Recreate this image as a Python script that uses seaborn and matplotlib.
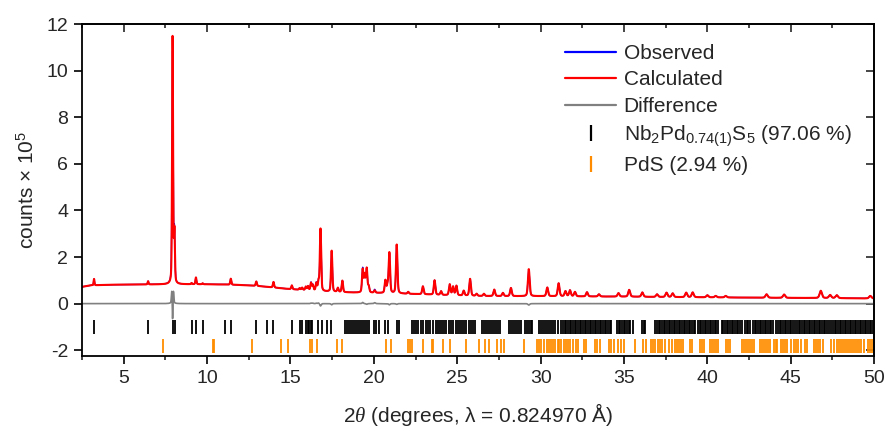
import numpy as np
import pandas as pd
import matplotlib
matplotlib.use("Agg")
import matplotlib.pyplot as plt
import seaborn as sns
from matplotlib.lines import Line2D
from matplotlib.ticker import MultipleLocator

# ---------------- data ----------------
# reflection positions (deg 2theta) and apex values (counts x 1e5) of the calculated pattern
peak_pos = [3.22, 6.46, 7.93, 8.04, 9.07, 9.33, 9.73, 11.42, 12.95, 13.98,
            15.08, 15.55, 15.70, 15.92, 16.05, 16.23, 16.34, 16.55, 16.68, 16.80,
            17.47, 17.84, 18.11, 19.33, 19.45, 19.57, 19.69, 20.05, 20.69, 20.82,
            20.93, 21.37, 22.06, 22.94, 23.64, 24.03, 24.55, 24.75, 24.95, 25.39,
            25.77, 26.16, 26.60, 27.22, 27.74, 28.22, 29.29, 30.40, 31.08, 31.49,
            31.76, 32.06, 32.78, 33.50, 34.67, 35.31, 36.10, 36.98, 37.55, 37.92,
            38.73, 39.12, 40.00, 40.50, 41.10, 43.55, 44.60, 46.80, 47.36, 47.76,
            49.77]
calc_apex = [1.06, 0.96, 11.45, 3.00, 0.88, 1.12, 0.87, 1.07, 0.95, 0.93,
             0.78, 0.66, 0.68, 0.72, 0.74, 0.88, 0.78, 0.86, 0.92, 3.20,
             2.27, 0.67, 0.98, 1.45, 1.20, 1.48, 0.72, 0.56, 0.98, 0.75,
             2.17, 2.53, 0.50, 0.74, 1.00, 0.53, 0.82, 0.72, 0.76, 0.55,
             1.06, 0.42, 0.42, 0.60, 0.46, 0.67, 1.48, 0.69, 0.87, 0.53,
             0.57, 0.50, 0.49, 0.40, 0.45, 0.59, 0.48, 0.40, 0.47, 0.44,
             0.47, 0.48, 0.36, 0.33, 0.33, 0.40, 0.39, 0.55, 0.37, 0.36,
             0.33]
obs_apex = [1.06, 0.96, 10.80, 3.00, 0.88, 1.12, 0.87, 1.07, 0.95, 0.93,
            0.78, 0.66, 0.68, 0.72, 0.74, 0.90, 0.80, 0.88, 0.95, 3.10,
            2.22, 0.67, 0.98, 1.50, 1.20, 1.45, 0.72, 0.60, 0.98, 0.75,
            2.12, 2.50, 0.50, 0.74, 1.00, 0.53, 0.82, 0.72, 0.76, 0.55,
            1.06, 0.42, 0.42, 0.60, 0.46, 0.67, 1.42, 0.69, 0.87, 0.53,
            0.57, 0.50, 0.49, 0.40, 0.45, 0.59, 0.48, 0.40, 0.47, 0.44,
            0.47, 0.48, 0.36, 0.33, 0.33, 0.40, 0.39, 0.55, 0.37, 0.36,
            0.33]
obs_width_scale = [1.0, 1.0, 1.12] + [1.0] * 68

# background anchor points
bg_pos = [2.5, 3.0, 4.0, 6.0, 8.0, 10.0, 11.0, 12.0, 13.0, 14.0, 15.0, 16.0,
          17.0, 18.0, 19.0, 20.0, 21.0, 22.0, 23.0, 24.0, 25.0, 26.0, 28.0,
          30.0, 32.0, 35.0, 38.0, 40.0, 44.0, 47.0, 50.0]
bg_val = [0.72, 0.78, 0.81, 0.82, 0.83, 0.83, 0.82, 0.80, 0.76, 0.69, 0.62, 0.57,
          0.52, 0.49, 0.47, 0.46, 0.44, 0.42, 0.40, 0.37, 0.35, 0.33, 0.32,
          0.32, 0.31, 0.30, 0.28, 0.27, 0.25, 0.24, 0.22]

# Bragg reflection markers
nb_ticks = [3.22, 6.46, 7.94, 8.06, 9.07, 9.31, 9.73, 11.10, 11.42, 12.92, 13.58, 13.96,
            15.07, 15.55, 15.67, 15.91, 16.04, 16.11, 16.23, 16.31, 16.67, 16.88, 17.16, 17.44,
            18.24, 18.36, 18.48, 18.60, 18.72, 18.84, 18.96, 19.08, 19.20, 19.32, 19.44, 19.56, 19.73,
            20.01, 20.10, 20.33, 20.65, 20.85, 21.37, 21.49,
            22.26, 22.38, 22.50, 22.62, 22.80, 22.92, 23.10, 23.22, 23.36, 23.54, 23.70, 23.82,
            23.94, 24.10, 24.22, 24.34, 24.50, 24.62, 24.74, 24.90, 25.02, 25.14, 25.30, 25.42,
            25.54, 25.70, 25.82, 25.94, 26.05,
            26.48, 26.60, 26.72, 26.84, 26.96, 27.08, 27.20, 27.32, 27.44, 27.56,
            28.08, 28.20, 28.32, 28.46, 28.60, 28.72, 28.81,
            29.05, 29.17, 29.29, 29.41, 29.49,
            29.93, 30.05, 30.17, 30.29, 30.41, 30.53, 30.65, 30.77, 30.89, 31.05,
            31.25, 31.35, 31.45, 31.55, 31.65, 31.75, 31.85, 31.95, 32.05, 32.15, 32.25, 32.35,
            32.45, 32.55, 32.65, 32.75, 32.85, 32.95, 33.05, 33.15, 33.25, 33.35, 33.45, 33.55,
            33.65, 33.75, 33.85, 33.95, 34.05, 34.15, 34.23,
            34.59, 34.69, 34.79, 34.89, 34.99, 35.09, 35.19, 35.29, 35.39, 35.51,
            36.10, 36.18, 36.28,
            36.88, 36.98, 37.08, 37.18, 37.28, 37.38, 37.48, 37.58, 37.68, 37.78, 37.88, 37.98,
            38.08, 38.18, 38.28, 38.38, 38.48, 38.58, 38.68, 38.78, 38.88, 38.98, 39.08, 39.18, 39.28,
            39.44, 39.54, 39.64, 39.74, 39.84, 39.94, 40.04, 40.14, 40.24, 40.34, 40.44, 40.54, 40.64,
            40.85, 40.95, 41.05, 41.15, 41.25, 41.35, 41.45, 41.55, 41.65, 41.75, 41.85, 41.95, 42.05,
            42.26, 42.36, 42.46, 42.56,
            42.74, 42.84, 42.94, 43.04, 43.14, 43.24, 43.34, 43.44, 43.54, 43.64, 43.74, 43.84, 43.94,
            44.14, 44.24, 44.34, 44.44, 44.54, 44.64, 44.74, 44.84, 44.94, 45.04, 45.14,
            45.27, 45.37, 45.47, 45.57, 45.67, 45.77, 45.87, 45.97, 46.07, 46.17, 46.27, 46.37,
            46.47, 46.57, 46.67, 46.77, 46.87, 46.97, 47.07, 47.17, 47.27,
            47.44, 47.54, 47.64, 47.74, 47.84, 47.94, 48.04, 48.14, 48.24, 48.34, 48.44, 48.54,
            48.64, 48.74, 48.84, 48.94, 49.04, 49.14, 49.24, 49.34, 49.44, 49.54, 49.64, 49.74,
            49.84, 49.94]
pds_ticks = [7.38, 10.35, 10.42, 12.70, 14.43, 14.83, 16.16, 16.28, 16.56, 17.80, 18.08,
             20.73, 21.01, 22.02, 22.14, 22.30, 22.94, 23.46, 23.54, 24.14, 24.59, 25.55,
             26.31, 26.68, 26.88, 27.40, 27.60, 27.80, 29.00,
             29.80, 29.92, 30.04, 30.21, 30.37, 30.49, 30.61, 30.77, 30.89, 31.05,
             31.13, 31.25, 31.41, 31.53, 31.65, 31.78, 31.94, 32.10, 32.26, 32.62, 32.74,
             33.26, 33.38, 33.58, 34.10, 34.22, 34.38, 34.67, 34.83, 34.99, 35.63,
             36.16, 36.32, 36.64, 36.76, 36.88, 37.04, 37.16, 37.28, 37.48, 37.68, 37.88, 38.08,
             38.16, 38.30, 38.44, 38.56, 38.93, 39.05, 39.57, 39.65, 39.81,
             40.13, 40.25, 40.37, 40.49, 40.65, 41.13, 41.25, 41.37,
             42.10, 42.22, 42.34, 42.46, 42.58, 42.70, 42.82,
             43.18, 43.30, 43.42, 43.54, 43.66, 43.78, 43.98, 44.10, 44.18,
             44.43, 44.55, 44.67, 44.79, 44.99, 45.19, 45.31, 45.43, 45.59, 45.87, 45.99,
             46.40, 46.52, 46.64, 46.76, 46.92, 47.44, 47.60,
             47.80, 47.92, 48.04, 48.16, 48.28, 48.40, 48.52, 48.64, 48.76, 48.88, 49.00,
             49.12, 49.24, 49.41, 49.61, 49.73, 49.85]

curve_names = ["Observed", "Calculated", "Difference"]
curve_colors = ["#0000FF", "#FF0000", "#808080"]
curve_widths = [1.0, 1.5, 1.2]
phase_labels = ["Nb$_2$Pd$_{0.74(1)}$S$_5$ (97.06 %)", "PdS (2.94 %)"]
phase_colors = ["#000000", "#FF8C00"]
x_ticks = [5, 10, 15, 20, 25, 30, 35, 40, 45, 50]
y_ticks = [-2, 0, 2, 4, 6, 8, 10, 12]

# ---------------- build profiles ----------------
tt = np.arange(2.5, 50.0001, 0.004)
bg = np.interp(tt, bg_pos, bg_val)


def fwhm(x):
    return 0.05 + 0.0024 * x


def pvoigt(x, x0, w, eta=0.35):
    d = ((x - x0) / w) ** 2
    return eta / (1 + 4 * d) + (1 - eta) * np.exp(-4 * np.log(2) * d)


calc = bg.copy()
obs = bg.copy()
for p, ca, oa, ws in zip(peak_pos, calc_apex, obs_apex, obs_width_scale):
    b = np.interp(p, bg_pos, bg_val)
    calc += (ca - b) * pvoigt(tt, p, fwhm(p))
    obs += (oa - b) * pvoigt(tt, p, fwhm(p) * ws)
diff = obs - calc

df = pd.DataFrame({"tt": tt, "Observed": obs, "Calculated": calc, "Difference": diff})

# ---------------- style ----------------
sns.set_style("ticks")
plt.rcParams["font.family"] = ["Liberation Sans", "DejaVu Sans"]
plt.rcParams["mathtext.fontset"] = "custom"
plt.rcParams["mathtext.rm"] = "Liberation Sans"
plt.rcParams["mathtext.it"] = "Liberation Serif:italic"
plt.rcParams["mathtext.bf"] = "Liberation Sans:bold"
plt.rcParams["axes.unicode_minus"] = False

fig = plt.figure(figsize=(8.86, 4.30), dpi=100)
ax = fig.add_axes([0.0926, 0.172, 0.894, 0.772])

for name, col, lw in zip(curve_names, curve_colors, curve_widths):
    sns.lineplot(data=df, x="tt", y=name, color=col, linewidth=lw,
                 estimator=None, sort=False, ax=ax)

ax.vlines(nb_ticks, -1.29, -0.69, color=phase_colors[0], linewidth=1.3)
ax.vlines(pds_ticks, -2.12, -1.50, color=phase_colors[1], linewidth=1.3)

ax.set_xlim(2.5, 50)
ax.set_ylim(-2.25, 12)
ax.set_xticks(x_ticks)
ax.set_yticks(y_ticks)
ax.xaxis.set_minor_locator(MultipleLocator(2.5))

for s in ax.spines.values():
    s.set_linewidth(1.3)
    s.set_color("black")
    s.set_visible(True)

ax.tick_params(axis="both", which="major", labelsize=14, direction="out",
               length=6, width=1.2, color="black", pad=4)
ax.tick_params(axis="x", which="minor", direction="out", length=3, width=1.2)
ax.tick_params(top=False, right=False)

sec_x = ax.secondary_xaxis("top")
sec_x.set_xticks(x_ticks)
sec_x.xaxis.set_minor_locator(MultipleLocator(2.5))
sec_x.tick_params(which="major", direction="in", length=6, width=1.2, labeltop=False)
sec_x.tick_params(which="minor", direction="in", length=3, width=1.2)
sec_x.spines["top"].set_linewidth(1.3)

sec_y = ax.secondary_yaxis("right")
sec_y.set_yticks(y_ticks)
sec_y.tick_params(which="major", direction="in", length=6, width=1.2, labelright=False)
sec_y.spines["right"].set_linewidth(1.3)

ax.set_xlabel("2$\\theta$ (degrees, λ = 0.824970 Å)", fontsize=15, labelpad=10)
ax.set_ylabel("counts × 10$^5$", fontsize=15, labelpad=6)

handles = [Line2D([], [], color=c, linewidth=1.6) for c in curve_colors]
handles += [Line2D([], [], color=c, marker="|", linestyle="none", markersize=11,
                   markeredgewidth=1.6) for c in phase_colors]
ax.legend(handles, curve_names + phase_labels, loc="upper left",
          bbox_to_anchor=(0.61, 0.94), frameon=False, fontsize=15,
          handlelength=2.45, handletextpad=0.35, labelspacing=0.36,
          borderpad=0, borderaxespad=0)

fig.savefig("out.png", dpi=100)
